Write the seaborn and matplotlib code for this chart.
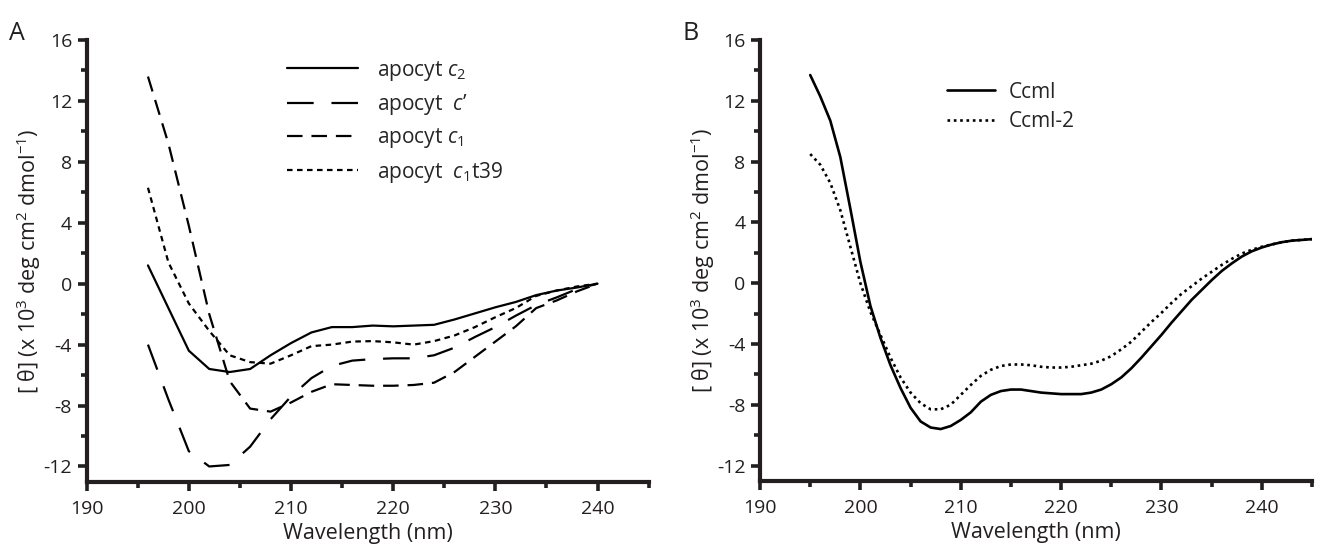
import numpy as np
import pandas as pd
import matplotlib
matplotlib.use("Agg")
import matplotlib.pyplot as plt
from matplotlib.ticker import MultipleLocator
import seaborn as sns

# panel A: apocytochromes, 2 nm steps
wl_a = list(range(196, 241, 2))
apo_c2 = [1.2, -1.6, -4.4, -5.6, -5.8, -5.6, -4.7, -3.9, -3.2, -2.85, -2.85, -2.75,
          -2.8, -2.75, -2.7, -2.35, -1.95, -1.55, -1.2, -0.75, -0.45, -0.25, 0.0]
apo_cprime = [-4.0, -7.6, -11.0, -12.0, -11.9, -10.7, -8.9, -7.4, -6.2, -5.4, -5.05, -4.95,
              -4.9, -4.9, -4.7, -4.2, -3.5, -2.85, -2.1, -1.4, -0.9, -0.35, 0.0]
apo_c1 = [13.6, 9.2, 3.8, -2.0, -6.4, -8.2, -8.4, -7.8, -7.1, -6.6, -6.65, -6.7,
          -6.7, -6.65, -6.5, -5.8, -4.8, -3.8, -2.8, -1.6, -1.1, -0.5, 0.0]
apo_c1t39 = [6.3, 1.4, -1.3, -3.1, -4.7, -5.15, -5.25, -4.7, -4.1, -4.0, -3.8, -3.77,
             -3.85, -4.0, -3.77, -3.4, -2.85, -2.2, -1.6, -0.8, -0.45, -0.18, 0.0]
labels_a = [r"apocyt $c_2$", "apocyt  $c$\u2019", r"apocyt $c_1$", r"apocyt  $c_1$t39"]

# panel B: CcmI, 1 nm steps
wl_b = list(range(195, 246))
ccml = [13.7, 12.3, 10.7, 8.3, 4.9, 1.4, -1.5, -3.6, -5.4, -6.9, -8.2, -9.1, -9.5, -9.6,
        -9.4, -9.0, -8.5, -7.8, -7.35, -7.1, -7.0, -7.0, -7.1, -7.2, -7.25, -7.3, -7.3,
        -7.3, -7.2, -7.0, -6.65, -6.2, -5.6, -4.9, -4.15, -3.4, -2.6, -1.85, -1.1, -0.45,
        0.2, 0.8, 1.3, 1.75, 2.1, 2.35, 2.55, 2.7, 2.8, 2.85, 2.9]
ccml2 = [8.5, 7.8, 6.6, 4.8, 2.4, 0.0, -1.9, -3.4, -4.9, -6.2, -7.2, -7.9, -8.3, -8.3,
         -8.0, -7.35, -6.7, -6.1, -5.7, -5.45, -5.35, -5.35, -5.4, -5.5, -5.55, -5.55,
         -5.5, -5.4, -5.3, -5.1, -4.8, -4.35, -3.85, -3.2, -2.55, -1.95, -1.3, -0.7,
         -0.2, 0.3, 0.75, 1.2, 1.6, 1.95, 2.2, 2.4, 2.55, 2.7, 2.8, 2.85, 2.9]
labels_b = ["Ccml", "Ccml-2"]

sns.set_style("ticks")
plt.rcParams["font.family"] = ["Open Sans", "DejaVu Sans"]
plt.rcParams["mathtext.fontset"] = "custom"
plt.rcParams["mathtext.rm"] = "Open Sans"
plt.rcParams["mathtext.it"] = "Open Sans:italic"
plt.rcParams["axes.unicode_minus"] = False

ink = "#231f20"

df_a = pd.concat([pd.DataFrame({"wl": wl_a, "theta": v, "sample": lab})
                  for v, lab in zip([apo_c2, apo_cprime, apo_c1, apo_c1t39], labels_a)])
df_b = pd.concat([pd.DataFrame({"wl": wl_b, "theta": v, "sample": lab})
                  for v, lab in zip([ccml, ccml2], labels_b)])

dashes_a = {labels_a[0]: "", labels_a[1]: (12, 8), labels_a[2]: (7, 4), labels_a[3]: (2.5, 2)}
dashes_b = {labels_b[0]: "", labels_b[1]: (1.0, 1.4)}

fig = plt.figure(figsize=(13.17, 5.48), dpi=100)
ax_a = fig.add_axes([0.0658, 0.121, 0.4267, 0.806])
ax_b = fig.add_axes([0.5771, 0.1228, 0.4191, 0.804])

sns.lineplot(data=df_a, x="wl", y="theta", style="sample", style_order=labels_a,
             dashes=dashes_a, color="black", lw=1.6, ax=ax_a)
sns.lineplot(data=df_b, x="wl", y="theta", style="sample", style_order=labels_b,
             dashes=dashes_b, color="black", lw=1.9, ax=ax_b)

ylabel = r"[ θ] (x 10$^3$ deg cm$^2$ dmol$^{-1}$)"
for ax in (ax_a, ax_b):
    ax.set_xlim(190, 245)
    ax.set_ylim(-13, 16)
    ax.xaxis.set_major_locator(MultipleLocator(10))
    ax.xaxis.set_minor_locator(MultipleLocator(5))
    ax.yaxis.set_major_locator(MultipleLocator(4))
    ax.yaxis.set_minor_locator(MultipleLocator(2))
    sns.despine(ax=ax)
    for s in ("left", "bottom"):
        ax.spines[s].set_linewidth(3)
        ax.spines[s].set_color(ink)
    ax.tick_params(which="major", length=6.5, width=2.6, color=ink,
                   labelsize=14, labelcolor=ink, pad=4)
    ax.tick_params(axis="x", which="major", pad=7)
    ax.tick_params(which="minor", length=4, width=2.6, color=ink)
    ax.set_xlabel("Wavelength (nm)", fontsize=15.5, color=ink, labelpad=3)
    ax.set_ylabel(ylabel, fontsize=15.5, color=ink, labelpad=0)

h, l = ax_a.get_legend_handles_labels()
ax_a.legend(h, l, loc="upper left", bbox_to_anchor=(0.3565, 0.958), frameon=False,
            fontsize=15, handlelength=3.4, handletextpad=0.9, labelspacing=0.45,
            borderpad=0, borderaxespad=0)
h, l = ax_b.get_legend_handles_labels()
ax_b.legend(h, l, loc="upper left", bbox_to_anchor=(0.338, 0.906), frameon=False,
            fontsize=15, handlelength=2.3, handletextpad=0.67, labelspacing=0.4,
            borderpad=0, borderaxespad=0)

fig.text(17 / 1317, 1 - 34 / 548, "A", fontsize=18, ha="center", va="center", color=ink)
fig.text(691 / 1317, 1 - 34 / 548, "B", fontsize=18, ha="center", va="center", color=ink)

fig.savefig("out.png", dpi=100)
